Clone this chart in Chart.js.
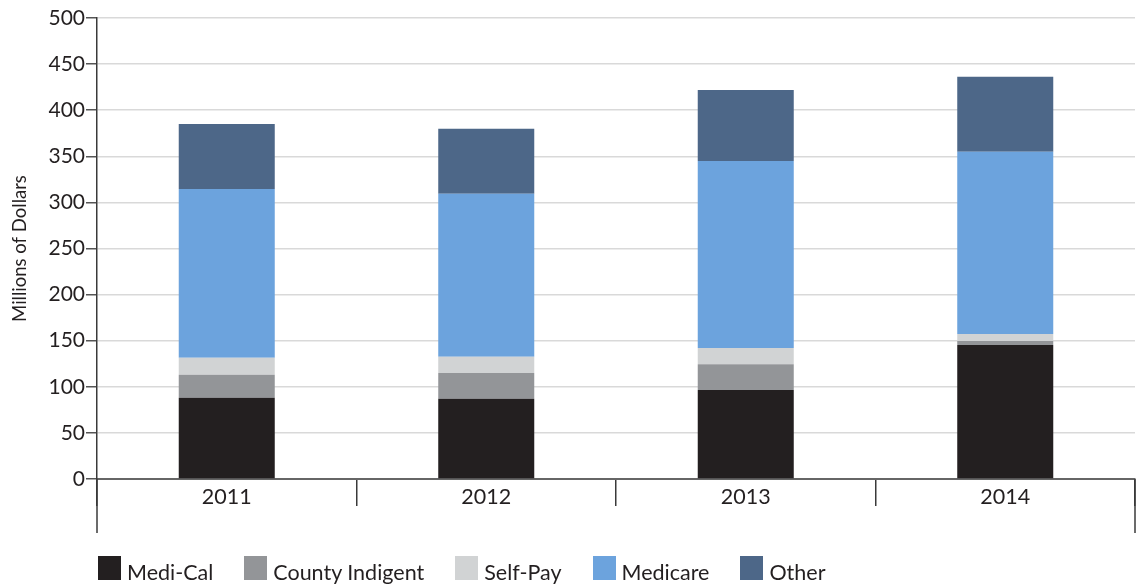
<!DOCTYPE html>
<html>
<head>
<meta charset="utf-8">
<script src="https://cdn.jsdelivr.net/npm/chart.js@4"></script>
<style>
  html, body { margin: 0; padding: 0; background: #fff; }
  #wrap { position: relative; width: 1140px; height: 584px; }
  #legend {
    position: absolute; left: 98px; top: 556px;
    display: flex; align-items: flex-end;
    font-family: Lato, "Noto Sans", sans-serif; font-size: 21.5px; color: #231f20;
  }
  .item { display: flex; align-items: flex-end; margin-right: 31px; }
  .box { width: 23px; height: 24px; margin-right: 6px; }
  .lbl { line-height: 21px; position: relative; top: 3px; }
</style>
</head>
<body>
<div id="wrap">
  <canvas id="chart" width="1140" height="584"></canvas>
  <div id="legend"></div>
</div>
<script>
// data (millions of dollars)
const years = ['2011', '2012', '2013', '2014'];
const mediCal = [88, 87, 96.5, 145.3];
const countyIndigent = [25, 28, 28, 4.5];
const selfPay = [18.5, 17.5, 17.5, 7.5];
const medicare = [183, 177, 203, 197.5];
const other = [70.5, 70.5, 77, 81.5];
const yTicks = [0, 50, 100, 150, 200, 250, 300, 350, 400, 450, 500];

const seriesNames = ['Medi-Cal', 'County Indigent', 'Self-Pay', 'Medicare', 'Other'];
const seriesColors = ['#231f20', '#939598', '#d1d3d4', '#6ca3dd', '#4d6788'];
const seriesValues = [mediCal, countyIndigent, selfPay, medicare, other];

const FONT = 'Lato, "Noto Sans", sans-serif';
const INK = '#231f20';

// left axis and right edge run down past the category labels
const axisExtensions = {
  id: 'axisExtensions',
  afterDraw(chart) {
    const { ctx, chartArea } = chart;
    ctx.save();
    ctx.strokeStyle = '#3a3a3a';
    ctx.lineWidth = 1.5;
    [chartArea.left, chartArea.right].forEach(x => {
      ctx.beginPath();
      ctx.moveTo(x, chartArea.bottom);
      ctx.lineTo(x, chartArea.bottom + 54);
      ctx.stroke();
    });
    ctx.restore();
  }
};

new Chart(document.getElementById('chart').getContext('2d'), {
  type: 'bar',
  data: {
    labels: years,
    datasets: seriesNames.map((name, i) => ({
      label: name,
      data: seriesValues[i],
      backgroundColor: seriesColors[i],
      borderWidth: 0,
      categoryPercentage: 1,
      barPercentage: 0.37
    }))
  },
  options: {
    responsive: false,
    animation: false,
    layout: { padding: { top: 18, right: 5, left: 0, bottom: 0 } },
    plugins: { legend: { display: false }, tooltip: { enabled: false } },
    scales: {
      x: {
        stacked: true,
        grid: { offset: true, drawOnChartArea: false, drawTicks: true, tickLength: 27, tickColor: '#3a3a3a', lineWidth: 1.5 },
        border: { display: true, color: '#666', width: 2 },
        ticks: { color: INK, font: { family: FONT, size: 21.5 }, padding: -22 },
        afterFit(scale) { scale.height = 105; }
      },
      y: {
        stacked: true,
        min: 0,
        max: 500,
        afterBuildTicks(scale) { scale.ticks = yTicks.map(v => ({ value: v })); },
        grid: { color: '#d9d9d9', lineWidth: 1.5, tickLength: 11, tickColor: '#555' },
        border: { display: true, color: '#3a3a3a', width: 1.5 },
        ticks: { color: INK, font: { family: FONT, size: 21 }, padding: 1 },
        title: { display: true, text: 'Millions of Dollars', color: INK, font: { family: FONT, size: 18.5 }, padding: { top: 9, bottom: 0 } },
        afterFit(scale) { scale.width = 97; }
      }
    }
  },
  plugins: [axisExtensions]
});

// legend as html, built from the series lists
const legend = document.getElementById('legend');
seriesNames.forEach((name, i) => {
  const item = document.createElement('div');
  item.className = 'item';
  item.innerHTML = '<span class="box" style="background:' + seriesColors[i] + '"></span><span class="lbl">' + name + '</span>';
  legend.appendChild(item);
});
</script>
</body>
</html>
